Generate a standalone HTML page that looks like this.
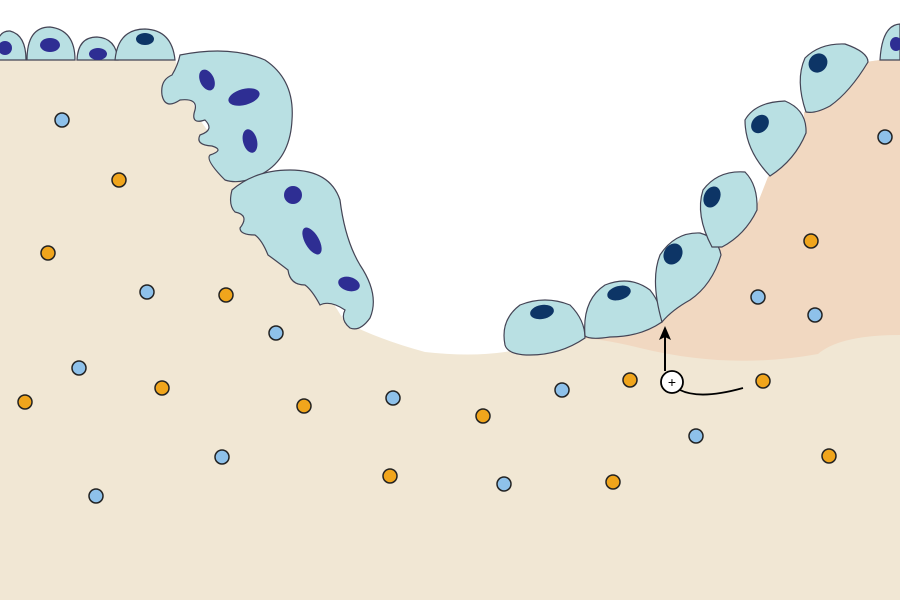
<!DOCTYPE html>
<html><head><style>html,body{margin:0;padding:0;background:#fff}svg{display:block}</style></head>
<body>
<svg width="900" height="600" viewBox="0 0 900 600" xmlns="http://www.w3.org/2000/svg">
<rect width="900" height="600" fill="#fff"/>
<path d="M0,60 L175,60 L200,120 L250,190 L300,250 L345,322 Q380,340 425,352 Q470,357 505,352 L585,337 L660,321 L688,300 L719,256 L720,247 L755,210 L768,177 L804,133 L804,112 L830,105 L866,62 L880,60 L900,60 L900,600 L0,600 Z" fill="#f1e7d4"/>
<path d="M575,338 L660,321 L688,300 L719,256 L720,247 L755,210 L768,177 L804,133 L804,112 L830,105 L866,62 L880,60 L900,60 L900,335 Q840,335 818,354 Q730,370 640,348 Q600,338 575,338 Z" fill="#f1d8c1"/>
<g fill="#b9e0e3" stroke="#445" stroke-width="1.2">
<path d="M-5,60 Q-5,30 10,31 Q26,35 26,60 Z"/>
<path d="M27,60 Q27,27 50,27 Q75,30 75,60 Z"/>
<path d="M77,60 Q78,37 97,37 Q116,38 118,60 Z"/>
<path d="M115,60 Q118,29 145,29 Q172,30 175,60 Z"/>
<path d="M880,60 Q882,25 900,24 L900,60 Z"/>
<path d="M180,55 Q230,45 265,60 Q295,80 292,120 Q290,160 260,175 Q240,185 225,180 Q205,160 210,155 Q225,150 212,146 Q195,145 200,135 Q215,130 205,120 Q190,125 195,110 Q198,98 180,100 Q165,110 162,95 Q160,80 172,75 Q178,65 180,55 Z"/>
<path d="M232,190 Q255,170 290,170 Q330,170 340,200 Q345,240 360,265 Q380,295 370,318 Q360,332 350,328 Q340,320 345,310 Q330,300 320,305 Q312,290 305,285 Q290,285 288,270 Q275,260 268,255 Q262,240 255,235 Q240,235 240,228 Q250,215 235,212 Q228,205 232,190 Z"/>
</g>
<g fill="#2e2e93">
<ellipse cx="5" cy="48" rx="7" ry="7"/>
<ellipse cx="50" cy="45" rx="10" ry="7"/>
<ellipse cx="98" cy="54" rx="9" ry="6"/>
<ellipse cx="207" cy="80" rx="7" ry="11" transform="rotate(-25 207 80)"/>
<ellipse cx="244" cy="97" rx="16" ry="8" transform="rotate(-15 244 97)"/>
<ellipse cx="250" cy="141" rx="7" ry="12" transform="rotate(-15 250 141)"/>
<ellipse cx="293" cy="195" rx="9" ry="9"/>
<ellipse cx="312" cy="241" rx="7" ry="15" transform="rotate(-30 312 241)"/>
<ellipse cx="349" cy="284" rx="11" ry="7" transform="rotate(15 349 284)"/>
<ellipse cx="896" cy="44" rx="6" ry="7"/>
</g>
<ellipse cx="145" cy="39" rx="9" ry="6" fill="#0d3566"/>
<g fill="#b9e0e3" stroke="#445" stroke-width="1.2">
<path d="M505,345 Q500,320 520,305 Q545,295 570,305 Q585,320 585,338 Q560,355 530,355 Q508,355 505,345 Z"/>
<path d="M585,336 Q582,300 605,285 Q630,275 650,290 Q662,305 662,322 Q640,337 610,337 Q590,340 585,336 Z"/>
<path d="M662,322 Q650,280 660,255 Q675,232 700,233 Q718,238 721,255 Q712,285 690,300 Q672,310 662,322 Z"/>
<path d="M712,247 Q695,215 703,190 Q718,170 745,172 Q758,185 757,210 Q745,235 722,247 Z"/>
<path d="M770,176 Q745,150 745,120 Q755,102 785,101 Q807,110 806,133 Q795,160 770,176 Z"/>
<path d="M806,112 Q795,80 805,58 Q820,43 845,44 Q868,52 868,62 Q850,92 830,106 Q815,114 806,112 Z"/>
</g>
<g fill="#0d3566">
<ellipse cx="542" cy="312" rx="12" ry="7" transform="rotate(-10 542 312)"/>
<ellipse cx="619" cy="293" rx="12" ry="7" transform="rotate(-15 619 293)"/>
<ellipse cx="673" cy="254" rx="9" ry="11" transform="rotate(30 673 254)"/>
<ellipse cx="712" cy="197" rx="8" ry="11" transform="rotate(25 712 197)"/>
<ellipse cx="760" cy="124" rx="8" ry="10" transform="rotate(40 760 124)"/>
<ellipse cx="818" cy="63" rx="9" ry="10" transform="rotate(40 818 63)"/>
</g>
<g stroke="#222" stroke-width="1.5">
<g fill="#8ec1ea">
<circle cx="62" cy="120" r="7"/><circle cx="147" cy="292" r="7"/><circle cx="276" cy="333" r="7"/><circle cx="79" cy="368" r="7"/><circle cx="222" cy="457" r="7"/><circle cx="96" cy="496" r="7"/><circle cx="393" cy="398" r="7"/><circle cx="504" cy="484" r="7"/><circle cx="562" cy="390" r="7"/><circle cx="696" cy="436" r="7"/><circle cx="758" cy="297" r="7"/><circle cx="815" cy="315" r="7"/><circle cx="885" cy="137" r="7"/>
</g>
<g fill="#f0a51c">
<circle cx="119" cy="180" r="7"/><circle cx="48" cy="253" r="7"/><circle cx="226" cy="295" r="7"/><circle cx="162" cy="388" r="7"/><circle cx="25" cy="402" r="7"/><circle cx="304" cy="406" r="7"/><circle cx="390" cy="476" r="7"/><circle cx="483" cy="416" r="7"/><circle cx="613" cy="482" r="7"/><circle cx="630" cy="380" r="7"/><circle cx="763" cy="381" r="7"/><circle cx="811" cy="241" r="7"/><circle cx="829" cy="456" r="7"/>
</g>
</g>
<path d="M665,371 L665,335" stroke="#000" stroke-width="2" fill="none"/>
<path d="M665,326 L671,340 L665,337 L659,340 Z" fill="#000"/>
<path d="M680,390 Q700,400 743,388" stroke="#000" stroke-width="1.8" fill="none"/>
<circle cx="672" cy="382" r="11" fill="#fff" stroke="#000" stroke-width="1.8"/>
<text x="672" y="387" font-family="Liberation Sans, sans-serif" font-size="14" text-anchor="middle">+</text>
</svg>
</body></html>
